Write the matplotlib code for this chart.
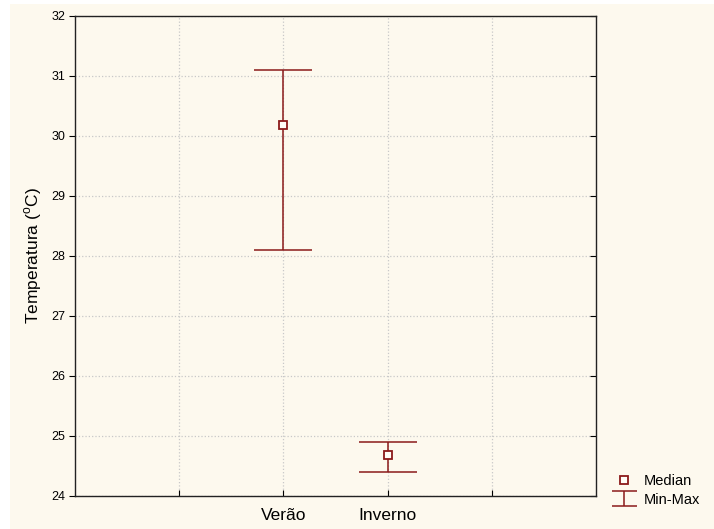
import matplotlib
matplotlib.use("Agg")
import matplotlib.pyplot as plt
from matplotlib.patches import Rectangle
import numpy as np

plt.rcParams['font.family'] = ['Liberation Sans', 'DejaVu Sans']
plt.rcParams['mathtext.fontset'] = 'custom'
plt.rcParams['mathtext.rm'] = 'Liberation Sans'

categories = ['Verão', 'Inverno']
median = [30.18, 24.68]
tmin = [28.1, 24.4]
tmax = [31.1, 24.9]

bg = '#fdf9ee'
red = '#8b1a1a'

fig = plt.figure(figsize=(7.14, 5.29), dpi=100, facecolor='white')
# cream panel behind everything, with a thin white strip top and left
fig.patches.append(Rectangle((10 / 714, 0), 1, 1 - 4 / 529, transform=fig.transFigure,
                             facecolor=bg, edgecolor='none', zorder=-10))
ax = fig.add_axes([75 / 714, 1 - 496 / 529, 521 / 714, 480 / 529], facecolor=bg)

x = np.arange(len(categories)) + 2
med = np.array(median)
lo = med - np.array(tmin)
hi = np.array(tmax) - med

ax.errorbar(x, med, yerr=[lo, hi], fmt='none', ecolor=red, elinewidth=1.1,
            capsize=21.2, capthick=1.1)
pts, = ax.plot(x, med, 's', ms=6, mfc='#fffdf7', mec=red, mew=1.3, zorder=5)

# small copy of the whisker symbol used only for the legend
eb = ax.errorbar([np.nan], [np.nan], yerr=[[0.1], [0.1]], fmt='none', ecolor=red,
                 elinewidth=1.1, capsize=9, capthick=1.1)

ax.set_xlim(0, 5)
ax.set_ylim(24, 32)
ax.set_xticks([1, 2, 3, 4])
ax.set_xticklabels(['', categories[0], categories[1], ''], fontsize=12.5)
ax.set_yticks(np.arange(24, 33, 1))
ax.tick_params(axis='y', labelsize=9, direction='out', length=4, pad=3)
ax.tick_params(axis='y', which='both', right=True)
ax.tick_params(axis='x', direction='in', length=4, pad=9)
ax.grid(True, color='#c8c8c8', linestyle=':', linewidth=0.9)
ax.set_axisbelow(True)
for s in ax.spines.values():
    s.set_color('#222222')
    s.set_linewidth(1.0)
for t in ax.yaxis.get_major_ticks():
    t.tick2line.set_marker(matplotlib.lines.TICKLEFT)

ax.set_ylabel(r'Temperatura ($^{\mathrm{o}}$C)', fontsize=12.5, labelpad=5)

fig.legend([pts, eb], ['Median', 'Min-Max'], loc='upper left',
           bbox_to_anchor=(604 / 714, 1 - 467 / 529), frameon=False, borderpad=0,
           fontsize=10.5, handlelength=1.7, handletextpad=0.5, labelspacing=0.3)

fig.savefig('out.png', dpi=100, facecolor='white')
